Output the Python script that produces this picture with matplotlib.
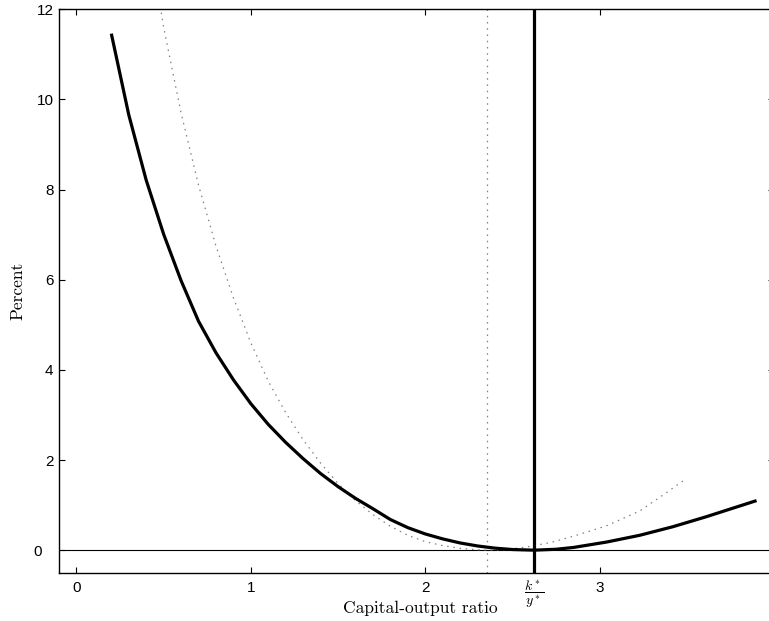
import matplotlib
matplotlib.use("Agg")
import matplotlib.pyplot as plt
from matplotlib.transforms import ScaledTranslation

# ---- data ----
x_loss = [0.20, 0.30, 0.40, 0.50, 0.60, 0.70, 0.80, 0.90, 1.00, 1.10, 1.20,
          1.30, 1.40, 1.50, 1.60, 1.70, 1.80, 1.90, 2.00, 2.10, 2.20, 2.30,
          2.40, 2.50, 2.625, 2.75, 2.85, 3.04, 3.23, 3.42, 3.61, 3.90]
y_loss = [11.46, 9.66, 8.21, 7.01, 5.98, 5.08, 4.38, 3.78, 3.25, 2.79, 2.39,
          2.03, 1.70, 1.41, 1.15, 0.92, 0.68, 0.50, 0.36, 0.25, 0.16, 0.093,
          0.045, 0.014, 0.0, 0.02, 0.06, 0.18, 0.33, 0.52, 0.74, 1.10]

x_alt = [0.475, 0.50, 0.60, 0.70, 0.80, 0.90, 1.00, 1.10, 1.20, 1.30, 1.40,
         1.50, 1.60, 1.70, 1.80, 1.90, 2.00, 2.10, 2.20, 2.30, 2.36, 2.45,
         2.58, 2.72, 2.85, 3.04, 3.23, 3.385, 3.49]
y_alt = [12.2, 11.60, 9.70, 8.10, 6.75, 5.60, 4.60, 3.75, 3.05, 2.45, 1.93,
         1.48, 1.10, 0.79, 0.53, 0.33, 0.19, 0.10, 0.04, 0.01, 0.0, 0.01,
         0.07, 0.17, 0.31, 0.54, 0.87, 1.28, 1.57]

ky_star = 2.625      # steady-state capital-output ratio
alt_min = 2.355      # minimum of the dotted curve

xticks = [0, 1, 2, ky_star, 3]
xtick_labels = ["0", "1", "2", r"$\dfrac{k^*}{y^*}$", "3"]
yticks = [0, 2, 4, 6, 8, 10, 12]
ytick_labels = ["0", "2", "4", "6", "8", "10", "12"]

plt.rcParams["mathtext.fontset"] = "cm"

fig = plt.figure(figsize=(7.69, 6.21), dpi=100)
W, H = 769, 621
x0, x1, ytop, ybot = 59, 774, 9.3, 572.7
ax = fig.add_axes([x0 / W, (H - ybot) / H, (x1 - x0) / W, (ybot - ytop) / H])

ax.plot(x_loss, y_loss, color="black", lw=2.3, solid_capstyle="butt", zorder=4)
ax.plot(x_alt, y_alt, color="0.5", lw=0.9, linestyle=(0, (1.2, 3.8)), zorder=3)
ax.axvline(alt_min, color="0.5", lw=0.9, linestyle=(0, (1.2, 3.8)), zorder=2)
ax.axvline(ky_star, color="black", lw=2.3, zorder=5)
ax.axhline(0, color="black", lw=0.8, zorder=2)

ax.set_xlim(-0.1, 4.0)
ax.set_ylim(-0.5, 12)
ax.set_xticks(xticks)
ax.set_xticklabels(xtick_labels)
ax.set_yticks(yticks)
ax.set_yticklabels(ytick_labels)
ax.tick_params(direction="in", length=4.3, width=0.8, top=True, right=True,
               labelsize=11, colors="black")
ax.tick_params(axis="x", pad=6)
ax.tick_params(axis="y", pad=4)
for lab in ax.get_xticklabels() + ax.get_yticklabels():
    if "$" not in lab.get_text():
        lab.set_fontfamily("Liberation Sans")
frac = ax.get_xticklabels()[3]
frac.set_fontsize(10)
frac.set_transform(frac.get_transform() + ScaledTranslation(0, 0.025, fig.dpi_scale_trans))
# the "0" label on the y axis sits further left in the reference
ylab0 = ax.get_yticklabels()[0]
ylab0.set_transform(ylab0.get_transform() + ScaledTranslation(-0.12, 0, fig.dpi_scale_trans))
for s in ax.spines.values():
    s.set_linewidth(1.0)

ax.set_xlabel("Capital-output ratio", fontfamily="cmr10", fontsize=12.5)
ax.set_ylabel("Percent", fontfamily="cmr10", fontsize=12.5)
ax.xaxis.set_label_coords(0.506, -(600.5 - ybot) / (ybot - ytop))
ax.yaxis.set_label_coords(-(59 - 25) / (x1 - x0), 0.5)

fig.savefig("out.png", dpi=100)
